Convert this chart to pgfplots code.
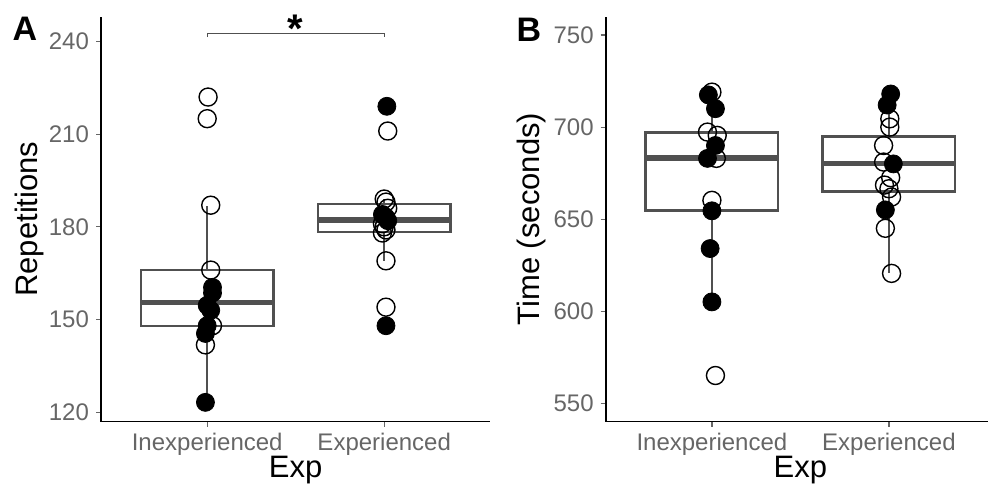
\documentclass[border=0pt]{standalone}
\usepackage{fontspec}
\setmainfont{Liberation Sans}
\usepackage{pgfplots}
\pgfplotsset{compat=1.18}
\usepgfplotslibrary{statistics}

\definecolor{tickgray}{HTML}{666666}
\definecolor{boxgray}{HTML}{505050}

\pgfplotsset{
  panel/.style={
    scale only axis, width=194.7pt, height=202.4pt,
    axis lines=left, axis line style={-, black, line width=0.9pt},
    xmin=0.4, xmax=2.6,
    xtick={1,2}, xticklabels={Inexperienced,Experienced},
    tick style={tickgray, line width=0.6pt}, tick align=outside,
    major tick length=2.5pt,
    ticklabel style={font=\fontsize{12}{14}\selectfont, text=tickgray},
    /pgf/number format/assume math mode=true,
    xlabel=Exp,
    label style={font=\fontsize{15.5}{18}\selectfont},
    xlabel style={at={(axis description cs:0.5,-0.121)}, anchor=center},
    clip=false,
    boxplot/draw direction=y,
  },
  openpt/.style={only marks, mark=o, mark size=4.5pt,
    mark options={line width=0.7pt, draw=black}},
  fillpt/.style={only marks, mark=*, mark size=4.5pt,
    mark options={draw=black, fill=black}},
  bx/.style={boxgray, line width=1.2pt, solid, mark=none,
    boxplot/box extend=0.75, boxplot/whisker extend=0,
    boxplot/every median/.style={line width=2.6pt}},
}

\begin{document}
\begin{tikzpicture}
\path[use as bounding box] (0,0) rectangle (494pt,246.5pt);

% panel A: repetitions
\begin{axis}[panel, at={(50.5pt,35.75pt)}, anchor=south west,
    ymin=117, ymax=248, ytick={120,150,180,210,240},
    ylabel=Repetitions,
    ylabel style={at={(axis description cs:-0.183,0.5)}, anchor=center}]
\addplot[bx, boxplot prepared={draw position=1, median=155.4,
    upper quartile=166, lower quartile=148, upper whisker=186.8,
    lower whisker=123.2}] coordinates {};
\addplot[bx, boxplot prepared={draw position=2, median=182.2,
    upper quartile=187.4, lower quartile=178.4, upper whisker=189,
    lower whisker=169}] coordinates {};
% inexperienced
\addplot[openpt] coordinates {
  (1.005,222) (1.00,215) (1.02,187) (1.02,166) (1.03,148) (0.99,141.8)};
\addplot[fillpt] coordinates {
  (1.03,160.4) (1.03,158.6) (1.00,154.6) (1.02,153) (1.00,148)
  (0.99,145.5) (0.99,123.2)};
% experienced
\addplot[openpt] coordinates {
  (2.02,211) (2.00,189) (2.01,188) (2.02,186) (1.99,181) (2.00,180)
  (2.01,179) (1.99,178) (2.01,169) (2.01,154)};
\addplot[fillpt] coordinates {
  (2.015,219) (1.99,184) (2.01,183) (2.02,182) (2.01,148)};
% significance bracket
\addplot[boxgray, line width=0.6pt, mark=none] coordinates {
  (1,241.4) (1,242.6) (2,242.6) (2,241.4)};
\node[anchor=base, inner sep=0pt, font=\bfseries\fontsize{20}{20}\selectfont]
  at (axis cs:1.5,239.6) {*};
\end{axis}

% panel B: time
\begin{axis}[panel, at={(302.85pt,35.75pt)}, anchor=south west,
    ymin=540, ymax=760, ytick={550,600,650,700,750},
    ylabel={Time (seconds)},
    ylabel style={at={(axis description cs:-0.19,0.5)}, anchor=center}]
\addplot[bx, boxplot prepared={draw position=1, median=683.2,
    upper quartile=697, lower quartile=654.7, upper whisker=719,
    lower whisker=605}] coordinates {};
\addplot[bx, boxplot prepared={draw position=2, median=680.1,
    upper quartile=694.9, lower quartile=665, upper whisker=718,
    lower whisker=620.5}] coordinates {};
% inexperienced
\addplot[openpt] coordinates {
  (1.00,719) (0.975,697.3) (1.03,695.5) (1.025,683) (1.00,660.2)
  (1.02,565)};
\addplot[fillpt] coordinates {
  (0.98,717.5) (1.02,710) (1.02,690) (0.975,683) (1.00,654.5)
  (0.99,634) (1.00,605)};
% experienced
\addplot[openpt] coordinates {
  (2.005,704.5) (2.005,700) (1.97,690) (1.97,681) (2.01,672.5)
  (1.975,668.5) (2.00,666.5) (2.015,662) (1.98,645) (2.015,620.5)};
\addplot[fillpt] coordinates {
  (2.01,718) (1.99,712) (2.025,680) (1.98,655)};
\end{axis}

% panel tags
\node[font=\bfseries\fontsize{17}{17}\selectfont] at (12.5pt,232pt) {A};
\node[font=\bfseries\fontsize{17}{17}\selectfont] at (264.5pt,231.5pt) {B};
\end{tikzpicture}
\end{document}
